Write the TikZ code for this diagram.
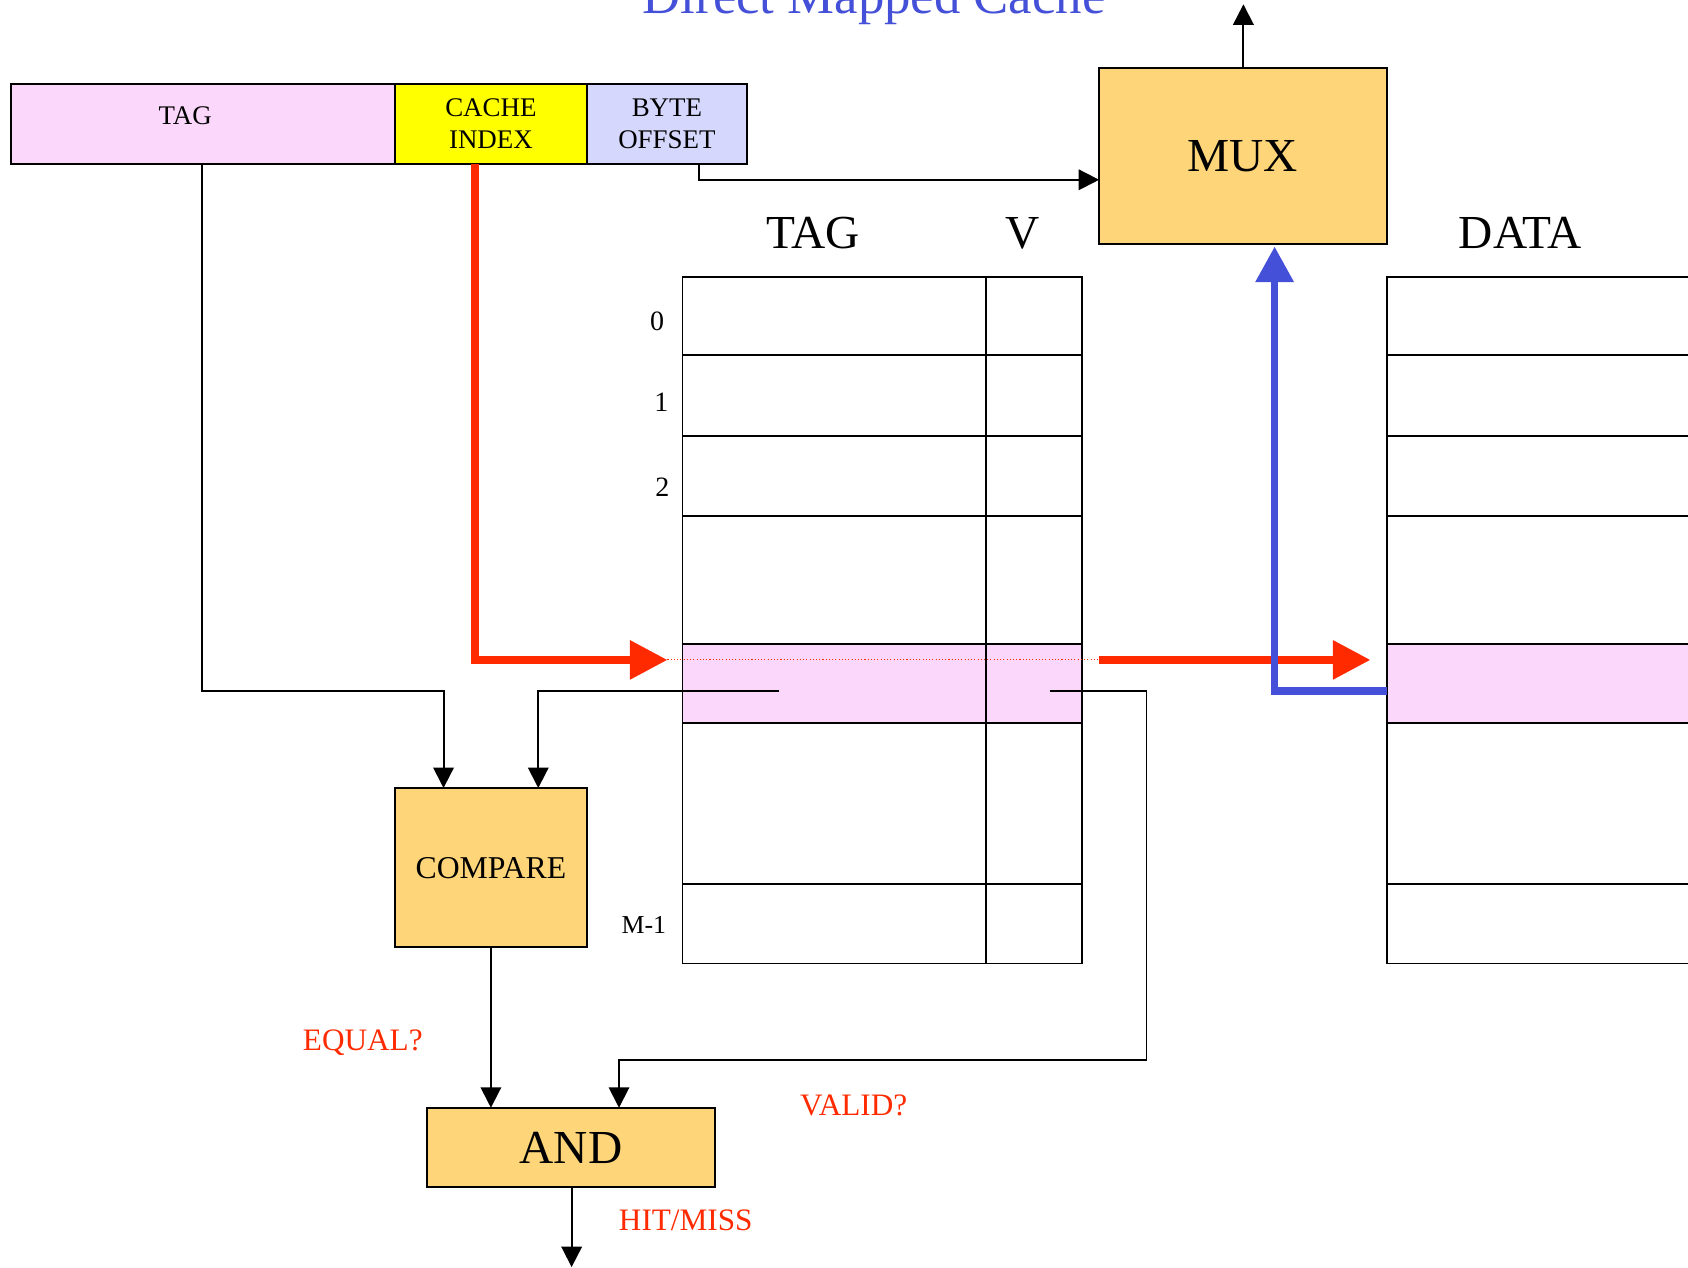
\documentclass[tikz,border=0pt]{standalone}
\usepackage{fontspec}
\setmainfont{Liberation Serif}
\usetikzlibrary{arrows.meta}
\definecolor{pinkc}{HTML}{FCD7FC}
\definecolor{yelc}{HTML}{FFFF00}
\definecolor{lavc}{HTML}{D5D7FC}
\definecolor{orc}{HTML}{FED579}
\definecolor{redc}{HTML}{FF2A00}
\definecolor{bluec}{HTML}{4450D8}
\begin{document}
\begin{tikzpicture}[x=1pt,y=-1pt,
  box/.style={draw,line width=1.8pt,inner sep=0pt,align=center},
  grid/.style={line width=1.8pt},
  conn/.style={line width=1.8pt,-{Triangle[length=19pt,width=19pt]}},
  redarr/.style={draw=redc,line width=7pt,-{Triangle[length=35pt,width=35pt]}},
  bluearr/.style={draw=bluec,line width=7pt,-{Triangle[length=33pt,width=34pt]}},
  small/.style={font=\fontsize{25}{29.5}\selectfont},
  big/.style={font=\fontsize{44}{50}\selectfont},
  lbl/.style={font=\fontsize{29}{34}\selectfont,text=redc,inner sep=0pt,anchor=base},
  rowl/.style={font=\fontsize{26}{30}\selectfont,inner sep=0pt,anchor=base east}]
\path[use as bounding box] (0,0) rectangle (1568,1177);

% title
\node[font=\fontsize{49}{55}\selectfont,text=bluec,inner sep=0pt,anchor=base] (title) at (812,13) {Direct Mapped Cache};

% address fields
\node[box,fill=pinkc,minimum width=357pt,minimum height=74pt] (tagf) at (188.5,115) {};
\node[small,inner sep=0pt,anchor=base] (tagt) at (172,116) {TAG};
\node[box,small,fill=yelc,minimum width=178pt,minimum height=74pt] (idxf) at (456,115) {CACHE\\INDEX};
\node[box,small,fill=lavc,minimum width=149pt,minimum height=74pt] (offf) at (619.5,115) {BYTE\\OFFSET};

% MUX, COMPARE, AND
\node[box,big,fill=orc,minimum width=267pt,minimum height=164pt] (mux) at (1154.5,145) {MUX};
\node[box,font=\fontsize{29.5}{34}\selectfont,fill=orc,minimum width=178pt,minimum height=148pt] (cmp) at (456,806) {COMPARE};
\node[box,big,fill=orc,minimum width=267pt,minimum height=74pt] (andg) at (530.5,1066) {AND};

% headers
\node[big,inner sep=0pt,anchor=base] (htag) at (755,231) {TAG};
\node[big,inner sep=0pt,anchor=base] (hv) at (950,231) {V};
\node[big,inner sep=0pt,anchor=base] (hdata) at (1412,231) {DATA};

% row labels
\node[rowl] (r0) at (617,307) {0};
\node[rowl] (r1) at (621,382) {1};
\node[rowl] (r2) at (622,461) {2};
\node[rowl,font=\fontsize{24}{28}\selectfont] (rm) at (619,867) {M-1};

% selected rows
\fill[pinkc] (634,598) rectangle (1005,672);
\fill[pinkc] (1288,598) rectangle (1600,672);

% tag/valid table
\draw[grid] (634,257) rectangle (1005,895);
\draw[grid] (916,257) -- (916,895);
\foreach \yy in {330,405,479,598,672,821}
  \draw[grid] (634,\yy) -- (1005,\yy);
% data table
\draw[grid] (1600,257) -- (1288,257) -- (1288,895) -- (1600,895);
\foreach \yy in {330,405,479,598,672,821}
  \draw[grid] (1288,\yy) -- (1600,\yy);

% named points
\coordinate (tagout) at (188,152);
\coordinate (cmpa) at (412,732);
\coordinate (cmpb) at (500,732);
\coordinate (tagrd) at (724,642);
\coordinate (vrd) at (975,642);
\coordinate (anda) at (456,1029);
\coordinate (andb) at (575,1029);
\coordinate (offout) at (649,152);
\coordinate (muxin) at (1021,167);
\coordinate (muxtop) at (1155,63);
\coordinate (outtop) at (1155,4);
\coordinate (cmpout) at (456,880);
\coordinate (andout) at (531,1103);
\coordinate (hitout) at (531,1177);
\coordinate (idxout) at (441,152);
\coordinate (tagrow) at (620,613);
\coordinate (rowout) at (1021,613);
\coordinate (datarow) at (1273,613);
\coordinate (datard) at (1288,642);
\coordinate (muxbot) at (1184,229);

% black connectors
\draw[conn] (tagout) |- (412,642) -- (cmpa);
\draw[conn] (tagrd) -- (500,642) -- (cmpb);
\draw[conn] (vrd) -- (1065,642) -- (1065,985) -- (575,985) -- (andb);
\draw[conn] (offout) -- (649,167) -- (muxin);
\draw[conn] (muxtop) -- (outtop);
\draw[conn] (cmpout) -- (anda);
\draw[conn] (andout) -- (hitout);

% red / blue paths
\draw[redc,line width=1pt,dotted] (tagrow) -- (rowout);
\draw[redarr] (idxout) -- (441,613) -- (tagrow);
\draw[redarr] (rowout) -- (datarow);
\draw[bluearr] (datard) -- (1184,642) -- (muxbot);

% labels
\node[lbl] (leq) at (337,976) {EQUAL?};
\node[lbl] (lvalid) at (793,1036) {VALID?};
\node[lbl] (lhit) at (637,1143) {HIT/MISS};
\end{tikzpicture}
\end{document}
